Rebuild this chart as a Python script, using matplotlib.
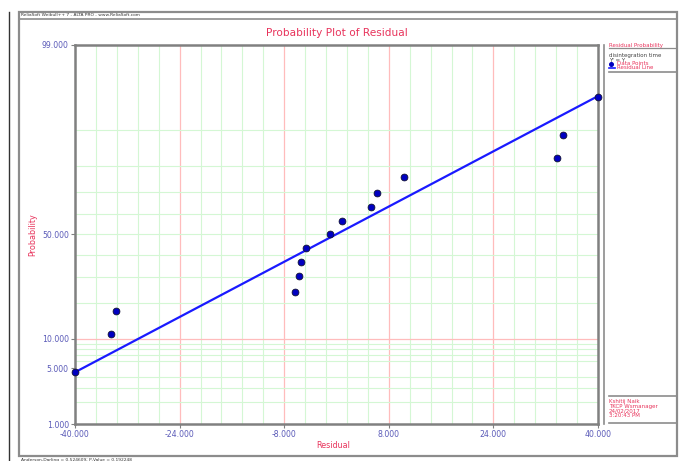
import matplotlib
matplotlib.use("Agg")
import matplotlib.pyplot as plt
from matplotlib.patches import Rectangle
from matplotlib.lines import Line2D
from statistics import NormalDist

# residuals and their median-rank unreliability (%)
residual = [-40.0, -34.5, -33.7, -6.3, -5.7, -5.45, -4.65, -1.0,
            0.85, 5.25, 6.15, 10.25, 33.7, 34.6, 40.0]
prob_pct = [4.55, 11.04, 17.53, 24.03, 30.52, 37.01, 43.51, 50.0,
            56.49, 62.99, 69.48, 75.97, 82.47, 88.96, 95.45]

# fitted normal line for the residuals
fit_mu = -0.1
fit_sigma = 23.6

x_ticks = [-40, -24, -8, 8, 24, 40]
y_ticks = [1, 5, 10, 50, 99]
y_minor = [2, 3, 4, 6, 7, 8, 9, 20, 30, 40, 50, 60, 70, 80, 90]

W, H = 680, 461
nd = NormalDist()


def z(p):
    return nd.inv_cdf(p / 100.0)


def fx(px):
    return px / W


def fy(py):
    return 1 - py / H


red = "#e8345c"
tick_blue = "#5a5ab8"
frame_grey = "#8c8c8c"

fig = plt.figure(figsize=(W / 100, H / 100), dpi=100)
fig.patch.set_facecolor("white")

# window frame
fig.add_artist(Line2D([fx(9), fx(9)], [fy(12), fy(461)], color="#333333", lw=1))
fig.add_artist(Rectangle((fx(19), fy(456)), fx(677) - fx(19), fy(12) - fy(456),
                         fill=False, ec=frame_grey, lw=1.6))
fig.add_artist(Rectangle((fx(19), fy(19)), fx(677) - fx(19), fy(12) - fy(19),
                         fill=False, ec=frame_grey, lw=1.2))
fig.text(fx(21), fy(15.5), "ReliaSoft Weibull++ 7 - ALTA PRO - www.ReliaSoft.com",
         fontsize=3.2, color="#333333", va="center")
fig.text(fx(21), fy(459.5), "Anderson-Darling = 0.524609; P-Value = 0.192248",
         fontsize=3.2, color="#333333", va="center")

ax = fig.add_axes([fx(75), fy(424), fx(598) - fx(75), fy(45) - fy(424)])
ax.set_xlim(-40, 40)
ax.set_ylim(z(1), z(99))

# grid
for i in range(26):
    v = -40 + i * 3.2
    if abs(round(v) - v) < 1e-6 and round(v) in x_ticks[1:-1]:
        continue
    ax.axvline(v, color="#d4f7d4", lw=0.8, zorder=0)
for v in x_ticks[1:-1]:
    ax.axvline(v, color="#ffbcbc", lw=0.9, zorder=0)
for p in y_minor:
    ax.axhline(z(p), color="#d4f7d4", lw=0.8, zorder=0)
ax.axhline(z(10), color="#ffbcbc", lw=0.9, zorder=0)

# fit line and data
lx = [-40, 40]
ly = [(v - fit_mu) / fit_sigma for v in lx]
ax.plot(lx, ly, color="#1a1aff", lw=1.6, zorder=3, clip_on=False)
ax.scatter(residual, [z(p) for p in prob_pct], s=24, color="#0000c0",
           edgecolors="#111133", linewidths=0.6, zorder=4, clip_on=False)

for s in ax.spines.values():
    s.set_color("#808080")
    s.set_linewidth(1.8)

ax.set_xticks(x_ticks)
ax.set_xticklabels([f"{v:.3f}" for v in x_ticks])
ax.set_yticks([z(p) for p in y_ticks])
ax.set_yticklabels([f"{p:.3f}" for p in y_ticks])
ax.tick_params(colors=tick_blue, labelsize=5.6, length=3, width=0.8, pad=1.5)
ax.tick_params(axis="both", color="#808080")

fig.text(fx(337), fy(33), "Probability Plot of Residual", color=red,
         fontsize=7.6, ha="center", va="center")
fig.text(fx(33), fy(235), "Probability", color=red, fontsize=5.8,
         rotation=90, ha="center", va="center")
fig.text(fx(333), fy(445), "Residual", color=red, fontsize=5.8,
         ha="center", va="center")

# side panel
fig.add_artist(Line2D([fx(604), fx(604)], [fy(45), fy(424)], color=frame_grey, lw=1.2))
fs = 4.0
fig.text(fx(609), fy(45), "Residual Probability", color=red, fontsize=fs, va="center")
fig.add_artist(Line2D([fx(609), fx(676)], [fy(48), fy(48)], color=frame_grey, lw=0.9))
fig.text(fx(609), fy(55.5), "disintegration time", color="#444444", fontsize=fs, va="center")
fig.text(fx(609), fy(60), "Y' = Y", color="#444444", fontsize=fs, va="center")
fig.add_artist(Line2D([fx(611)], [fy(64)], marker="o", ms=2.6, color="#0000c0",
                      lw=0))
fig.text(fx(617), fy(63.5), "Data Points", color=red, fontsize=fs, va="center")
fig.add_artist(Line2D([fx(609), fx(615)], [fy(67.5), fy(67.5)], color="#1a1aff", lw=1.2))
fig.text(fx(617), fy(67.5), "Residual Line", color=red, fontsize=fs, va="center")
fig.add_artist(Line2D([fx(609), fx(676)], [fy(72), fy(72)], color=frame_grey, lw=1.2))

fig.add_artist(Line2D([fx(609), fx(676)], [fy(396), fy(396)], color=frame_grey, lw=1.2))
fig.text(fx(609), fy(401), "Kshitij Naik", color=red, fontsize=fs, va="center")
fig.text(fx(609), fy(406), "TKCP Wsmanager", color=red, fontsize=fs, va="center")
fig.text(fx(609), fy(411), "24/02/2017", color=red, fontsize=fs, va="center")
fig.text(fx(609), fy(415.5), "3:20:43 PM", color=red, fontsize=fs, va="center")
fig.add_artist(Line2D([fx(609), fx(676)], [fy(423), fy(423)], color=frame_grey, lw=1.2))

fig.savefig("out.png", dpi=100)
